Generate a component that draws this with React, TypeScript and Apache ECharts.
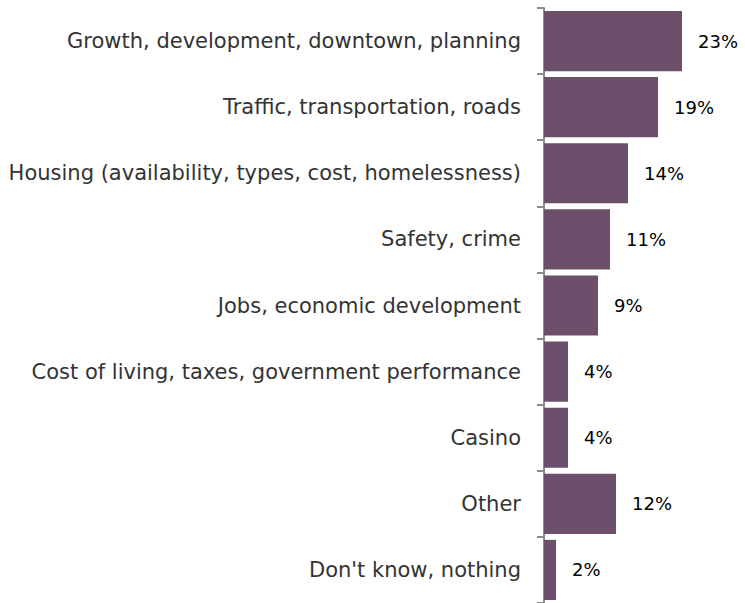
import React, { useEffect, useRef } from "react";
import * as echarts from "echarts";

const categories = [
  "Growth, development, downtown, planning",
  "Traffic, transportation, roads",
  "Housing (availability, types, cost, homelessness)",
  "Safety, crime",
  "Jobs, economic development",
  "Cost of living, taxes, government performance",
  "Casino",
  "Other",
  "Don't know, nothing",
];
const values = [23, 19, 14, 11, 9, 4, 4, 12, 2];

export default function App() {
  const ref = useRef<HTMLDivElement>(null);
  useEffect(() => {
    const chart = echarts.init(ref.current!, null, { renderer: "svg" });
    chart.setOption({
      animation: false,
      grid: { left: 544, top: 8, width: 180, height: 595 },
      xAxis: { type: "value", min: 0, max: 30, show: false },
      yAxis: {
        type: "category",
        data: categories,
        inverse: true,
        axisLine: { show: true, lineStyle: { color: "#8c8c8c", width: 2 } },
        axisTick: { show: true, length: 7, lineStyle: { color: "#8c8c8c", width: 2 } },
        axisLabel: {
          margin: 23,
          fontSize: 21,
          color: "#333333",
          fontFamily: "DejaVu Sans",
        },
      },
      series: [
        {
          type: "bar",
          data: values,
          barCategoryGap: "9%",
          itemStyle: { color: "#6C506B" },
          label: {
            show: true,
            position: "right",
            distance: 16,
            formatter: "{c}%",
            fontSize: 18,
            color: "#000000",
            fontFamily: "DejaVu Sans",
          },
        },
      ],
    });
    return () => chart.dispose();
  }, []);
  return (
    <div
      ref={ref}
      style={{ position: "absolute", left: 0, top: 0, width: 745, height: 603 }}
    />
  );
}
